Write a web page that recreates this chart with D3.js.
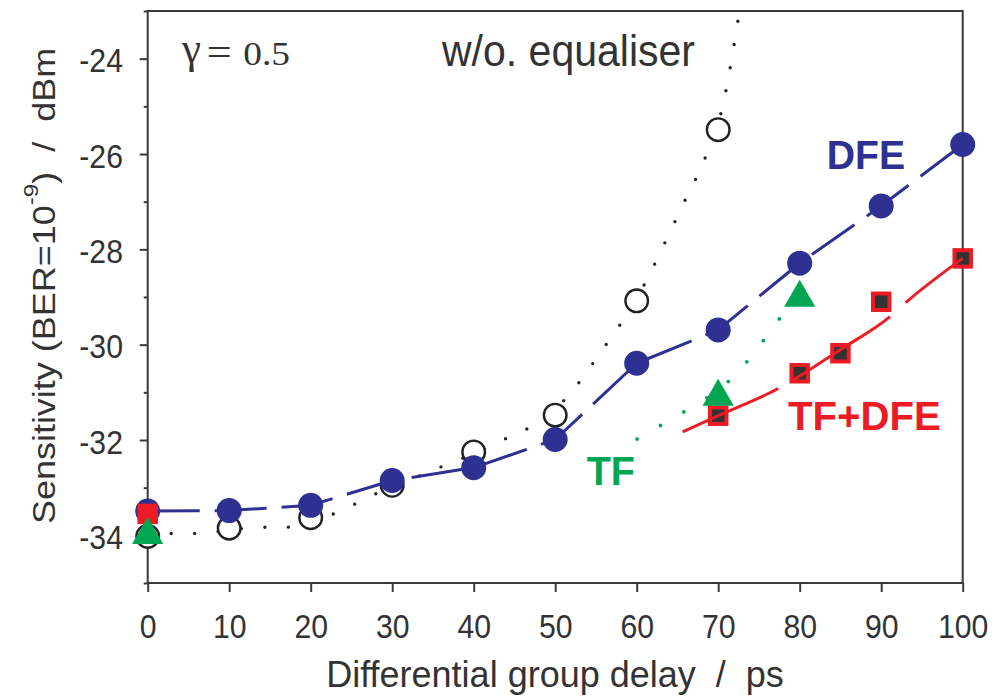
<!DOCTYPE html>
<html>
<head>
<meta charset="utf-8">
<script src="https://cdn.jsdelivr.net/npm/d3@7/dist/d3.min.js"></script>
<style>
  html, body { margin: 0; padding: 0; background: #fff; }
  svg { display: block; }
  text { font-family: "Liberation Sans", Arial, Helvetica, sans-serif; }
</style>
</head>
<body>
<script>
// ---------------- data ----------------
const xTicks = [0, 10, 20, 30, 40, 50, 60, 70, 80, 90, 100];
const yMajorTicks = [-24, -26, -28, -30, -32, -34];
const yMinorTicks = [-23, -25, -27, -29, -31, -33, -35];

// DFE (filled blue circles)
const dfeDelay = [0, 10, 20, 30, 40, 50, 60, 70, 80, 90, 100];
const dfeSens  = [-33.49, -33.48, -33.37, -32.85, -32.58, -31.99, -30.39, -29.69, -28.29, -27.09, -25.80];

// without equaliser (open circles)
const noEqDelay = [0, 10, 20, 30, 40, 50, 60, 70];
const noEqSens  = [-34.02, -33.85, -33.63, -32.95, -32.25, -31.48, -29.08, -25.49];
// dotted curve drawn for the "w/o. equaliser" case
const noEqCurveDelay = [0, 2.74, 5.6, 14.06, 16.85, 22.49, 25.35, 28.1, 33.82, 36.6, 42.28, 45.07, 47.93, 52.52, 54.55, 56.56, 58.56, 61.75, 63.07, 65.77, 68.47, 70.5, 72.52];
const noEqCurveSens  = [-33.97, -33.96, -33.96, -33.83, -33.83, -33.57, -33.35, -33.12, -32.72, -32.52, -32.12, -31.87, -31.65, -30.88, -30.41, -29.92, -29.43, -28.47, -28.0, -27.03, -26.05, -25.03, -23.10];

// TF (green triangles) and its dotted curve
const tfDelay = [0, 70, 80];
const tfSens  = [-33.90, -31.00, -28.92];
const tfCurveDelay = [60.05, 62.88, 65.7, 68.4, 72.4, 74.7, 76.9, 79.5];
const tfCurveSens  = [-31.98, -31.70, -31.42, -31.14, -30.58, -30.10, -29.60, -28.98];

// TF+DFE (red-bordered squares) and its curve
const tfDfeDelay = [0, 70, 80, 85, 90, 100];
const tfDfeSens  = [-33.55, -31.49, -30.60, -30.18, -29.10, -28.19];
const tfDfeCurveDelay = [65.64, 70.01, 77.37, 84.94, 91.17, 93.13, 100];
const tfDfeCurveSens  = [-31.83, -31.49, -30.92, -30.11, -29.40, -29.10, -28.19];

// ---------------- drawing ----------------
const W = 1007, H = 696;
const BLUE = "#2e3192", RED = "#ed1c24", GREEN = "#00a651", DARK = "#333333", AX = "#3a3a3a";

const svg = d3.select("body").append("svg").attr("width", W).attr("height", H);

const x = d3.scaleLinear().domain([0, 100]).range([147.7, 962.7]);
const y = d3.scaleLinear().domain([-35, -23]).range([583, 11]);

const zip = (a, b) => a.map((v, i) => [v, b[i]]);
const plainFmt = d => String(d);   // hyphen-minus like the original

svg.append("defs").append("clipPath").attr("id", "plotclip")
  .append("rect").attr("x", x(0)).attr("y", y(-23)).attr("width", x(100) - x(0)).attr("height", y(-35) - y(-23));

// frame
svg.append("rect")
  .attr("x", x(0)).attr("y", y(-23))
  .attr("width", x(100) - x(0)).attr("height", y(-35) - y(-23))
  .attr("fill", "none").attr("stroke", AX).attr("stroke-width", 2);

// x axis
const gx = svg.append("g").attr("transform", `translate(0,${y(-35)})`)
  .call(d3.axisBottom(x).tickValues(xTicks).tickSize(9).tickFormat(plainFmt));
gx.select(".domain").remove();
gx.selectAll(".tick line").attr("stroke", AX).attr("stroke-width", 2);
gx.selectAll(".tick text")
  .attr("y", 31.5).attr("dy", "0.71em")
  .attr("transform", "scale(0.93,1)")
  .attr("fill", DARK).style("font-size", "32.5px");

// y axis majors
const gy = svg.append("g").attr("transform", `translate(${x(0)},0)`)
  .call(d3.axisLeft(y).tickValues(yMajorTicks).tickSize(8).tickFormat(plainFmt));
gy.select(".domain").remove();
gy.selectAll(".tick line").attr("stroke", AX).attr("stroke-width", 2);
gy.selectAll(".tick text")
  .attr("x", -26.6).attr("dy", "0.4em")
  .attr("transform", "scale(0.93,1)")
  .attr("fill", DARK).style("font-size", "32.5px");

// y axis minors
const gym = svg.append("g").attr("transform", `translate(${x(0)},0)`)
  .call(d3.axisLeft(y).tickValues(yMinorTicks).tickSize(4).tickFormat(""));
gym.select(".domain").remove();
gym.selectAll(".tick line").attr("stroke", AX).attr("stroke-width", 2);

// axis titles
svg.append("text")
  .attr("x", 555).attr("y", 687).attr("text-anchor", "middle")
  .style("font-size", "36px").style("white-space", "pre").attr("fill", DARK)
  .text("Differential group delay  /  ps");

const yt = svg.append("text")
  .attr("transform", "translate(55,286) rotate(-90) scale(1,0.85)")
  .attr("text-anchor", "middle")
  .style("font-size", "36px").style("white-space", "pre").attr("fill", DARK);
yt.append("tspan").text("Sensitivity (BER=10");
yt.append("tspan").attr("dy", -20).style("font-size", "24px").text("-9");
yt.append("tspan").attr("dy", 20).text(")  /  dBm");

// ---------- series ----------
const plot = svg.append("g");
const lineGen = (curve) => d3.line().x(d => x(d[0])).y(d => y(d[1])).curve(curve);

// w/o equaliser dotted curve
plot.append("path")
  .datum(zip(noEqCurveDelay, noEqCurveSens))
  .attr("clip-path", "url(#plotclip)")
  .attr("d", lineGen(d3.curveMonotoneX))
  .attr("fill", "none").attr("stroke", "#222").attr("stroke-width", 3.4)
  .attr("stroke-linecap", "round").attr("stroke-dasharray", "0,23.5");

// open circles
plot.selectAll("circle.noeq").data(zip(noEqDelay, noEqSens)).join("circle")
  .attr("class", "noeq")
  .attr("cx", d => x(d[0])).attr("cy", d => y(d[1])).attr("r", 11.3)
  .attr("fill", "#fff").attr("stroke", "#222").attr("stroke-width", 2.4);

// DFE line
plot.append("path")
  .datum(zip(dfeDelay, dfeSens))
  .attr("d", lineGen(d3.curveLinear))
  .attr("fill", "none").attr("stroke", BLUE).attr("stroke-width", 3)
  .attr("stroke-dasharray", "52,15");

// DFE circles
plot.selectAll("circle.dfe").data(zip(dfeDelay, dfeSens)).join("circle")
  .attr("class", "dfe")
  .attr("cx", d => x(d[0])).attr("cy", d => y(d[1])).attr("r", 12.5)
  .attr("fill", BLUE);

// TF+DFE squares
const sq = 16.5;
plot.selectAll("rect.tfdfe").data(zip(tfDfeDelay, tfDfeSens)).join("rect")
  .attr("class", "tfdfe")
  .attr("x", d => x(d[0]) - sq / 2).attr("y", d => y(d[1]) - sq / 2)
  .attr("width", sq).attr("height", sq)
  .attr("fill", (d, i) => i === 0 ? RED : DARK)
  .attr("stroke", RED).attr("stroke-width", 4);

// TF+DFE line
plot.append("path")
  .datum(zip(tfDfeCurveDelay, tfDfeCurveSens))
  .attr("d", lineGen(d3.curveMonotoneX))
  .attr("fill", "none").attr("stroke", RED).attr("stroke-width", 3)
  .attr("stroke-dasharray", "105,14,119,21,300");

// TF dotted line
plot.append("path")
  .datum(zip(tfCurveDelay, tfCurveSens))
  .attr("d", lineGen(d3.curveMonotoneX))
  .attr("fill", "none").attr("stroke", GREEN).attr("stroke-width", 3.8)
  .attr("stroke-linecap", "round").attr("stroke-dasharray", "0,27");

// TF triangles
plot.selectAll("path.tf").data(zip(tfDelay, tfSens)).join("path")
  .attr("class", "tf")
  .attr("transform", d => `translate(${x(d[0])},${y(d[1])})`)
  .attr("d", "M-15.6,13.5L15.6,13.5L0,-13.5Z")
  .attr("fill", GREEN);

// ---------- annotations ----------
const serif = '"Liberation Serif", "Times New Roman", Times, serif';
svg.append("text").attr("x", 182).attr("y", 63).style("font-family", serif)
  .style("font-size", "44px").attr("fill", DARK)
  .attr("textLength", 19).attr("lengthAdjust", "spacingAndGlyphs").text("γ");
svg.append("text").attr("x", 206.7).attr("y", 65).style("font-family", serif)
  .style("font-size", "38px").attr("fill", DARK)
  .attr("textLength", 25).attr("lengthAdjust", "spacingAndGlyphs").text("=");
svg.append("text").attr("x", 243.3).attr("y", 65).style("font-family", serif)
  .style("font-size", "33px").attr("fill", DARK)
  .attr("textLength", 46.7).attr("lengthAdjust", "spacingAndGlyphs").text("0.5");

svg.append("text").attr("x", 442).attr("y", 65.7)
  .style("font-size", "44px").attr("fill", DARK)
  .attr("textLength", 253).attr("lengthAdjust", "spacingAndGlyphs")
  .text("w/o. equaliser");

svg.append("text").attr("x", 826.7).attr("y", 169)
  .style("font-size", "40.5px").style("font-weight", "bold").attr("fill", BLUE)
  .attr("textLength", 78.3).attr("lengthAdjust", "spacingAndGlyphs").text("DFE");

svg.append("text").attr("x", 788).attr("y", 430)
  .style("font-size", "41px").style("font-weight", "bold").attr("fill", RED)
  .attr("textLength", 152.7).attr("lengthAdjust", "spacingAndGlyphs").text("TF+DFE");

svg.append("text").attr("x", 586.7).attr("y", 485)
  .style("font-size", "40.5px").style("font-weight", "bold").attr("fill", GREEN)
  .attr("textLength", 48.3).attr("lengthAdjust", "spacingAndGlyphs").text("TF");
</script>
</body>
</html>
